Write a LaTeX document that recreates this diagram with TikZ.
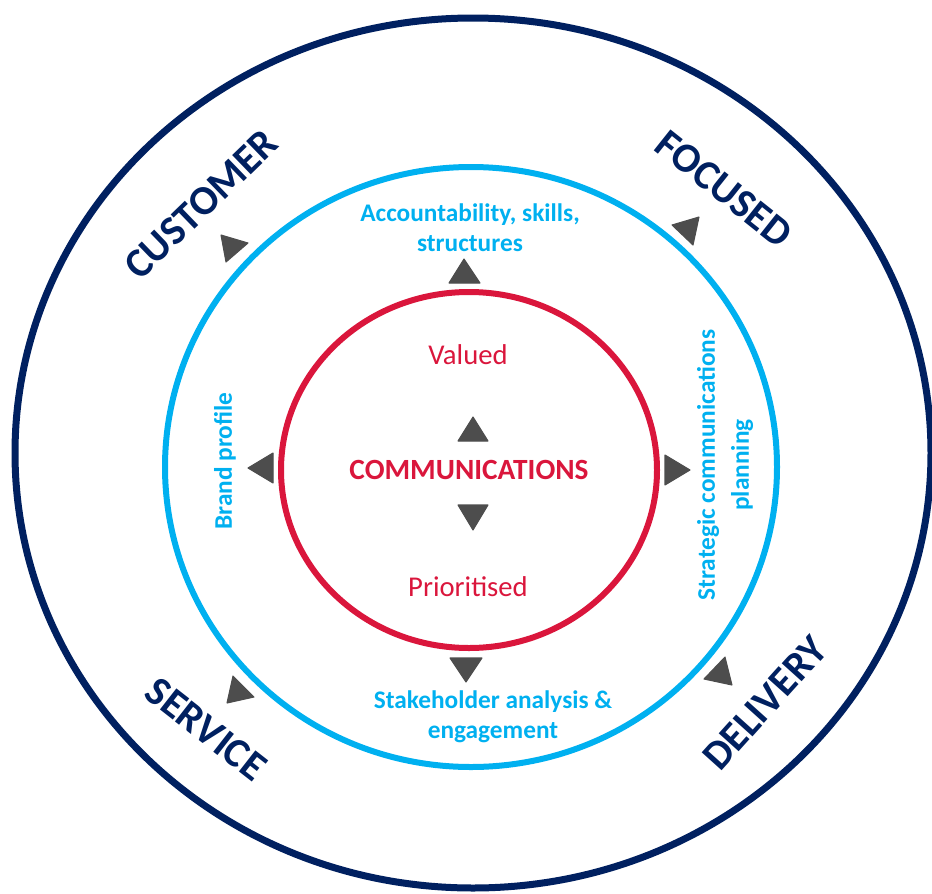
\documentclass[tikz,border=0pt]{standalone}
\usepackage{fontspec}
\setmainfont{Carlito}
\definecolor{navy}{RGB}{0,32,96}
\definecolor{ringcyan}{RGB}{0,176,240}
\definecolor{ringred}{RGB}{218,22,60}
\definecolor{arrowgray}{RGB}{77,77,77}

\begin{document}
\begin{tikzpicture}[x=0.75pt,y=-0.75pt,
  pointer/.style={fill=arrowgray, draw=arrowgray, line width=0.8pt, line join=round},
  outerlabel/.style={text=navy, font=\bfseries\fontsize{31}{36}\selectfont, inner sep=0pt},
  midlabel/.style={text=ringcyan, font=\bfseries\fontsize{19}{22.5}\selectfont, align=center, inner sep=0pt},
  corelabel/.style={text=ringred, font=\fontsize{21.5}{26}\selectfont, inner sep=0pt}]
\clip (0,0) rectangle (932,893);

% three rings
\draw[navy, line width=5.25pt] (473,453) ellipse [x radius=458, y radius=435];
\draw[ringcyan, line width=4.5pt] (471,467) ellipse [x radius=306, y radius=300];
\draw[ringred, line width=4.5pt] (469,470) ellipse [x radius=188, y radius=178];

% outer ring words
\node[outerlabel, rotate=44] (customer) at (201,204) {CUSTOMER};
\node[outerlabel, rotate=-38.5] (focused) at (724,189) {FOCUSED};
\node[outerlabel, rotate=-38] (service) at (206,729) {SERVICE};
\node[outerlabel, rotate=48] (delivery) at (765,703) {DELIVERY};

% middle ring words
\node[midlabel] (account) at (470,228) {Accountability, skills,\\structures};
\node[midlabel] (stake) at (493,717) {Stakeholder analysis \&\\engagement};
\node[midlabel, rotate=90] (brand) at (225,461) {Brand profile};
\node[midlabel, rotate=90, font=\bfseries\fontsize{19}{25.5}\selectfont] (strategic) at (725,465) {Strategic communications\\planning};

% core words
\node[corelabel] (valued) at (468,355) {Valued};
\node[corelabel] (prior) at (468,587) {Prioritised};
\node[corelabel, font=\bfseries\fontsize{22}{26}\selectfont] (comms) at (469,470) {COMMUNICATIONS};

% pointers around the core
\fill[pointer] (473,417) -- (488,441) -- (458,441) -- cycle;
\fill[pointer] (473,530) -- (458,505) -- (488,505) -- cycle;
\fill[pointer] (464,259) -- (480,283) -- (449,283) -- cycle;
\fill[pointer] (466,682) -- (450,658) -- (482,658) -- cycle;
\fill[pointer] (248,468) -- (273,453) -- (273,483) -- cycle;
\fill[pointer] (690,470) -- (665,455) -- (665,485) -- cycle;

% pointers at the diagonals
\fill[pointer] (221,235) -- (248,243) -- (226,262) -- cycle;
\fill[pointer] (672,225) -- (699,217) -- (693,245) -- cycle;
\fill[pointer] (233,676) -- (254,697) -- (227,703) -- cycle;
\fill[pointer] (725,657) -- (732,685) -- (704,679) -- cycle;
\end{tikzpicture}
\end{document}
